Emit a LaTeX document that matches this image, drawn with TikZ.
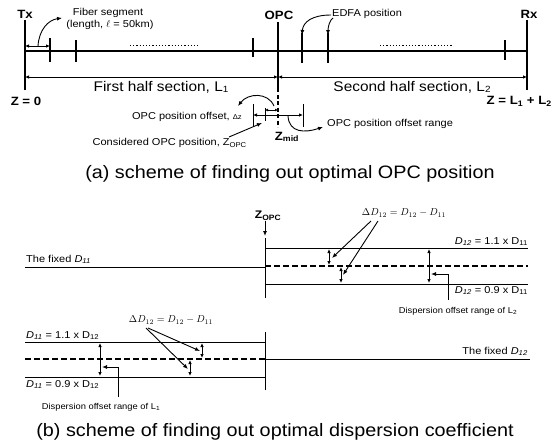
\documentclass[tikz,border=0pt]{standalone}
\usepackage{fontspec}
\setmainfont{Liberation Sans}[FakeStretch=1.1]
\usetikzlibrary{arrows.meta}
\newcommand{\lowsub}[1]{\raisebox{-0.12em}{\fontsize{9}{9}\selectfont #1}}
\begin{document}
\begin{tikzpicture}[x=1pt,y=-1pt,
  tipA/.style={-{Latex[length=5pt,width=4pt]}},
  dbl/.style={{Latex[length=4pt,width=3.5pt]}-{Latex[length=4pt,width=3.5pt]}},
  heavy/.style={line width=2.8pt},
  fibre/.style={line width=1.1pt},
  rule/.style={line width=0.9pt},
  dashline/.style={line width=1.2pt,dash pattern=on 6pt off 3pt},
  lab/.style={inner sep=0pt,font=\fontsize{10}{12}\selectfont},
  labs/.style={inner sep=0pt,font=\fontsize{8.5}{10}\selectfont},
  blab/.style={inner sep=0pt,font=\fontsize{12}{14}\selectfont\bfseries},
  sec/.style={inner sep=0pt,font=\fontsize{14}{16}\selectfont},
  captxt/.style={inner sep=0pt,font=\fontsize{18}{20}\selectfont},
  frm/.style={inner sep=0pt,font=\fontsize{10}{12}\selectfont}]
\useasboundingbox (0,0) rectangle (555,445);
% ---------------- (a) ----------------
\coordinate (TxT) at (25,20); \coordinate (TxB) at (25,90);
\coordinate (OpT) at (278,22); \coordinate (OpB) at (278,88); \coordinate (OpD) at (278,127);
\coordinate (RxT) at (527,20); \coordinate (RxB) at (527,90);
\draw[heavy] (TxT)--(TxB);
\draw[heavy] (OpT)--(OpB);
\draw[heavy,dash pattern=on 4pt off 2.5pt] (OpB)--(OpD);
\draw[heavy] (RxT)--(RxB);
\node[blab] (tx) at (25,14) {Tx};
\node[blab] (opc) at (279,15) {OPC};
\node[blab] (rx) at (529,14) {Rx};
\coordinate (ML) at (25,51); \coordinate (MR) at (527,51);
\draw[fibre] (ML)--(MR);
\foreach \x/\a/\b in {50/38/62,76/40/62,253/38/57,302/33/63,328/33/63,505/40/60}
  \draw[fibre] (\x,\a)--(\x,\b);
\draw[line width=0.9pt,dash pattern=on 1.2pt off 2pt] (130,45)--(200,45);
\draw[line width=0.9pt,dash pattern=on 1.2pt off 2pt] (380,45)--(452,45);
% fiber segment
\coordinate (fa) at (25,46); \coordinate (fb) at (50,46);
\draw[dbl,rule] (fa)--(fb);
\node[lab] (fs) at (108,13) {Fiber segment};
\node[lab] (fl) at (110,25) {(length, $\ell$ = 50km)};
\coordinate (fc) at (38,46);
\draw[tipA,rule] (fc) .. controls (39,30) and (48,20) .. (62,18);
% sections
\coordinate (s1) at (25,77); \coordinate (s2) at (278,77); \coordinate (s3) at (527,77);
\draw[dbl,rule] (s1)--(s2);
\draw[dbl,rule] (s2)--(s3);
\node[sec] (sec1) at (161,87) {First half section, L\lowsub{1}};
\node[sec] (sec2) at (412,87) {Second half section, L\lowsub{2}};
% EDFA
\node[lab,anchor=west] (edfa) at (332,14) {EDFA position};
\draw[tipA,rule] (331,15) .. controls (312,15) and (303,22) .. (302,35);
\draw[tipA,rule] (333,18) .. controls (330,20) and (328,26) .. (328,35);
% Z labels
\node[blab] (z0) at (26,101) {Z = 0};
\node[blab,anchor=east] (zL) at (552,101) {Z = L\textsubscript{1} + L\textsubscript{2}};
% OPC detail
\draw[rule] (253,104)--(253,126);
\draw[rule] (303,104)--(303,127);
\draw[dbl,rule] (253,115)--(303,115);
\draw[rule] (265,108)--(265,121);
\draw[{Latex[length=3pt,width=3pt]}-{Latex[length=3pt,width=3pt]},rule] (265,110)--(278,110);
\draw[tipA,rule] (274,106) .. controls (268,92) and (248,93) .. (238,106);
\node[lab,anchor=east] (off) at (242,117) {OPC position offset, {\fontsize{7}{8}\selectfont Δz}};
\node[lab,anchor=east] (cons) at (247,143) {Considered OPC position, Z\textsubscript{OPC}};
\draw[tipA,rule] (229,137) -- (262,123);
\node[blab] (zmid) at (287,137) {Z\textsubscript{mid}};
\draw[tipA,rule] (288,116) .. controls (289,133) and (305,133) .. (323,127);
\node[lab,anchor=west] (rng) at (327,124) {OPC position offset range};
\node[captxt] (capa) at (290,174) {(a) scheme of finding out optimal OPC position};
% ---------------- (b) upper ----------------
\node[blab,font=\fontsize{11}{13}\selectfont\bfseries] (zopc) at (268,216) {Z\textsubscript{OPC}};
\coordinate (za) at (265,236);
\draw[tipA,rule] (zopc.south -| za) -- (za);
\draw[rule] (265,238)--(265,298);
\draw[rule] (25,267)--(265,267);
\node[lab,anchor=south west] (fx1) at (26,264) {The fixed \textit{D}\textsubscript{\textit{11}}};
\draw[rule] (265,248)--(528,248);
\draw[dashline] (265,266)--(528,266);
\draw[rule] (265,284)--(528,284);
\node[lab,anchor=south east] (u11) at (528,246) {\textit{D}\textsubscript{\textit{12}} = 1.1 x D\textsubscript{11}};
\node[lab,anchor=north east] (u09) at (528,286) {\textit{D}\textsubscript{\textit{12}} = 0.9 x D\textsubscript{11}};
\draw[dbl,rule] (329,249)--(329,265);
\draw[dbl,rule] (341,267)--(341,283);
\draw[dbl,rule] (429,249)--(429,283);
\draw[tipA,rule] (448,300) -- (448,274) -- (431,274);
\node[labs] (dol2) at (458,311) {Dispersion offset range of L\textsubscript{2}};
\node[frm] (dd1) at (404,213) {$\Delta D_{12} = D_{12} - D_{11}$};
\coordinate (e1) at (332,258); \coordinate (e2) at (343,275);
\draw[tipA,rule] (371,221)--(e1);
\draw[tipA,rule] (378,221)--(e2);
% ---------------- (b) lower ----------------
\node[frm] (dd2) at (171,320) {$\Delta D_{12} = D_{12} - D_{11}$};
\node[lab,anchor=south west] (l11) at (26,340) {\textit{D}\textsubscript{\textit{11}} = 1.1 x D\textsubscript{12}};
\draw[rule] (25,342)--(265,342);
\draw[dashline] (25,359)--(265,359);
\draw[rule] (265,359)--(530,359);
\draw[rule] (25,377)--(265,377);
\draw[rule] (265,332)--(265,390);
\node[lab,anchor=north west] (l09) at (26,380) {\textit{D}\textsubscript{\textit{11}} = 0.9 x D\textsubscript{12}};
\node[lab,anchor=south east] (fx2) at (528,356) {The fixed \textit{D}\textsubscript{\textit{12}}};
\draw[dbl,rule] (100,343)--(100,376);
\draw[tipA,rule] (118,397)--(118,367)--(102,367);
\node[labs] (dol1) at (101,407) {Dispersion offset range of L\textsubscript{1}};
\draw[dbl,rule] (202,343)--(202,358);
\draw[dbl,rule] (190,360)--(190,376);
\coordinate (e3) at (200,351); \coordinate (e4) at (188,369);
\draw[tipA,rule] (148,328)--(e3);
\draw[tipA,rule] (146,328)--(e4);
\node[captxt] (capb) at (275,432) {(b) scheme of finding out optimal dispersion coefficient};
\end{tikzpicture}
\end{document}
